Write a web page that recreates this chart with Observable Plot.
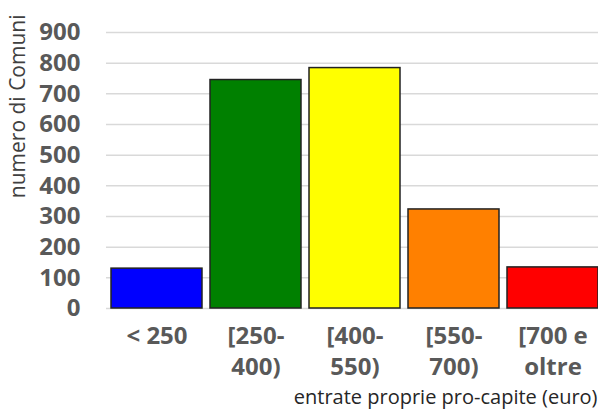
<!DOCTYPE html>
<html>
<head>
<meta charset="utf-8">
<script src="https://cdn.jsdelivr.net/npm/d3@7"></script>
<script src="https://cdn.jsdelivr.net/npm/@observablehq/plot@0.6"></script>
<style>
  html, body { margin: 0; padding: 0; background: #fff; overflow: hidden; }
</style>
</head>
<body>
<div id="chart"></div>
<script>
// Fasce di entrate proprie pro-capite (euro) e numero di Comuni per fascia
const fasce = ["< 250", "[250-\n400)", "[400-\n550)", "[550-\n700)", "[700 e\noltre"];
const comuni = [130, 745, 784, 323, 134];
const colori = ["#0000ff", "#008000", "#ffff00", "#ff8000", "#ff0000"];
const yTicks = [0, 100, 200, 300, 400, 500, 600, 700, 800, 900];
const titoloY = "numero di Comuni";
const titoloX = "entrate proprie pro-capite (euro)";

const data = fasce.map((f, i) => ({fascia: f, n: comuni[i], colore: colori[i]}));

const chart = Plot.plot({
  width: 598,
  height: 410,
  marginLeft: 106,
  marginRight: -6,
  marginTop: 32,
  marginBottom: 102,
  style: {fontFamily: "'Open Sans', sans-serif", background: "#fff"},
  x: {domain: fasce, paddingInner: 0.08, paddingOuter: 0.04, label: null},
  y: {domain: [0, 900], label: null},
  marks: [
    Plot.gridY(yTicks, {stroke: "#d9d9d9", strokeOpacity: 1, strokeWidth: 1.5}),
    Plot.barY(data, {x: "fascia", y: "n", fill: "colore", stroke: "#222", strokeWidth: 1.5}),
    Plot.axisY(yTicks, {
      tickSize: 0, tickPadding: 26, fontSize: 24, fontWeight: "bold",
      fill: "#595959", label: null
    }),
    Plot.axisX({
      tickSize: 0, tickPadding: 13, fontSize: 24, fontWeight: "bold",
      fill: "#595959", lineHeight: 1.3, label: null
    }),
    Plot.text([titoloY], {
      frameAnchor: "top-left", dx: -88, dy: -18, rotate: -90,
      textAnchor: "end", lineAnchor: "middle",
      fontSize: 21, fill: "#404040"
    }),
    Plot.text([titoloX], {
      frameAnchor: "bottom-right", dx: -7, dy: 95,
      textAnchor: "end", lineAnchor: "bottom",
      fontSize: 20, fill: "#262626"
    })
  ]
});

document.getElementById("chart").appendChild(chart);
</script>
</body>
</html>
